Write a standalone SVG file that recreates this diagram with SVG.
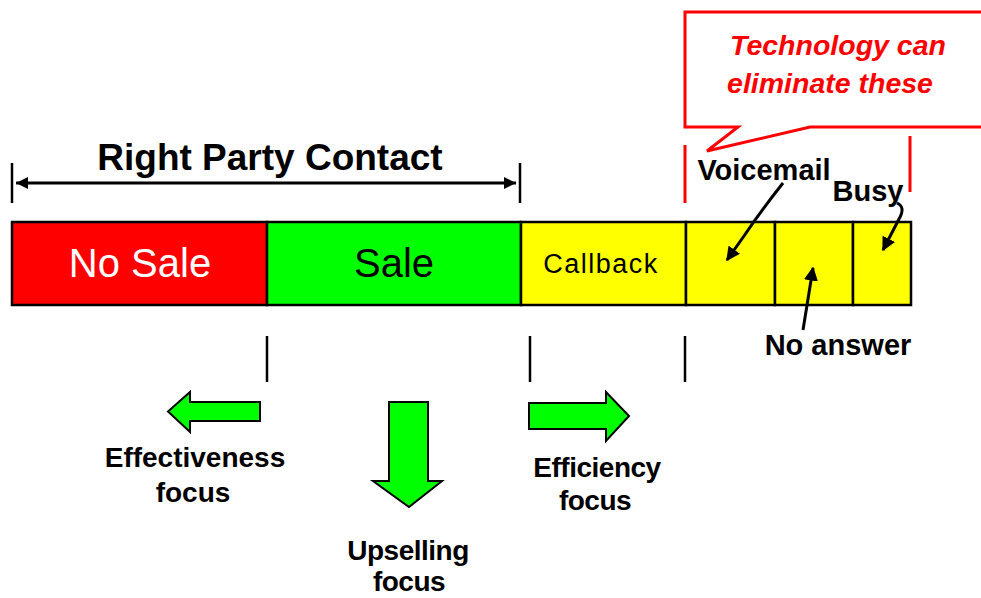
<svg xmlns="http://www.w3.org/2000/svg" width="981" height="598" viewBox="0 0 981 598">
<defs>
<style>
.seg{stroke:#000;stroke-width:2.5}
.lbl{font-family:"Liberation Sans",Arial,sans-serif;font-weight:bold;fill:#000;text-anchor:middle}
.big{font-family:"Liberation Sans",Arial,sans-serif;font-size:40px;text-anchor:middle}
.tick{stroke:#000;stroke-width:2.5;fill:none}
.red{stroke:#ff0000;stroke-width:3;fill:none}
.ptr{stroke:#000;stroke-width:3;fill:none}
.block{fill:#00ff00;stroke:#000;stroke-width:2}
</style>
<marker id="ah" viewBox="0 0 10 10" refX="9" refY="5" markerWidth="14" markerHeight="14" markerUnits="userSpaceOnUse" orient="auto">
<path d="M0,0 L10,5 L0,10 Z" fill="#000"/>
</marker>
<marker id="dim" viewBox="0 0 10 10" refX="10" refY="5" markerWidth="14" markerHeight="12" markerUnits="userSpaceOnUse" orient="auto-start-reverse">
<path d="M0,0 L10,5 L0,10 Z" fill="#000"/>
</marker>
</defs>
<rect width="981" height="598" fill="#fff"/>

<g id="right-party-contact">
<text class="lbl" x="270" y="170" font-size="37">Right Party Contact</text>
<line class="tick" x1="12" y1="163" x2="12" y2="203"/>
<line class="tick" x1="520" y1="163" x2="520" y2="203"/>
</g>

<g id="no-sale">
<rect class="seg" x="12" y="222" width="255" height="83" fill="#ff0000"/>
<text class="big" x="140" y="277" fill="#fff">No Sale</text>
</g>
<g id="sale">
<rect class="seg" x="267" y="222" width="254" height="83" fill="#00ff00"/>
<text class="big" x="394" y="277" fill="#000">Sale</text>
</g>
<g id="callback">
<rect class="seg" x="521" y="222" width="165" height="83" fill="#ffff00"/>
<text x="601" y="273" font-family="'Liberation Sans',Arial,sans-serif" font-size="27" letter-spacing="1.5" text-anchor="middle" fill="#000">Callback</text>
</g>
<g id="voicemail-seg">
<rect class="seg" x="686" y="222" width="89" height="83" fill="#ffff00"/>
</g>
<g id="noanswer-seg">
<rect class="seg" x="775" y="222" width="78" height="83" fill="#ffff00"/>
</g>
<g id="busy-seg">
<rect class="seg" x="853" y="222" width="58" height="83" fill="#ffff00"/>
</g>

<g id="callout">
<path class="red" d="M981,12 H685 V127 H738 L707,151 L810,127 H981"/>
<text x="838" y="55" font-family="'Liberation Sans',Arial,sans-serif" font-size="28.5" font-weight="bold" font-style="italic" fill="#ff0000" text-anchor="middle">Technology can</text>
<text x="830" y="93" font-family="'Liberation Sans',Arial,sans-serif" font-size="28.5" font-weight="bold" font-style="italic" fill="#ff0000" text-anchor="middle">eliminate these</text>
<line class="red" x1="685" y1="145" x2="685" y2="203" stroke-width="2.5"/>
<line class="red" x1="910" y1="136" x2="910" y2="192" stroke-width="2.5"/>
</g>

<g id="voicemail-label"><text class="lbl" x="764" y="180" font-size="29">Voicemail</text></g>
<g id="busy-label"><text class="lbl" x="868" y="201" font-size="29">Busy</text></g>
<g id="noanswer-label"><text class="lbl" x="838" y="355" font-size="29">No answer</text></g>

<g id="dividers">
<line class="tick" x1="267" y1="336" x2="267" y2="382"/>
<line class="tick" x1="530" y1="336" x2="530" y2="382"/>
<line class="tick" x1="685" y1="336" x2="685" y2="382"/>
</g>

<g id="effectiveness">
<polygon class="block" points="260,402 190,402 190,392 168,411.5 190,432 190,421 260,421"/>
<text class="lbl" x="195" y="467" font-size="28">Effectiveness</text>
<text class="lbl" x="193" y="502" font-size="28">focus</text>
</g>
<g id="upselling">
<polygon class="block" points="389,402 428,402 428,481 442,481 409,507 373,481 389,481"/>
<text class="lbl" x="408" y="560" font-size="28" letter-spacing="-0.5">Upselling</text>
<text class="lbl" x="409" y="591" font-size="28" letter-spacing="-0.5">focus</text>
</g>
<g id="efficiency">
<polygon class="block" points="529,403 606,403 606,392 629,416 606,441 606,429 529,429"/>
<text class="lbl" x="597" y="477" font-size="28" letter-spacing="-0.5">Efficiency</text>
<text class="lbl" x="595" y="510" font-size="28" letter-spacing="-0.5">focus</text>
</g>

<g id="connectors">
<line class="ptr" x1="16" y1="183" x2="516" y2="183" marker-start="url(#dim)" marker-end="url(#dim)"/>
<path class="ptr" d="M783,183 Q760,212 744,236 L727,260" marker-end="url(#ah)"/>
<path class="ptr" d="M897,203 Q906,207 899,219 L883,250" marker-end="url(#ah)"/>
<path class="ptr" d="M803,330 L813,268" marker-end="url(#ah)"/>
</g>
</svg>
